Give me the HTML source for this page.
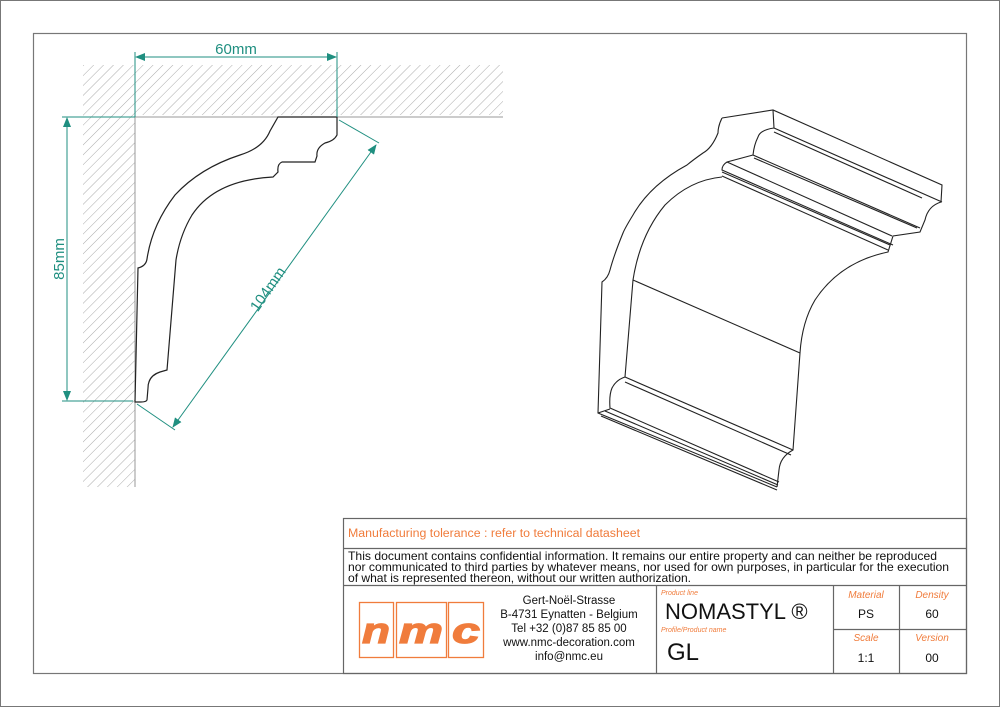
<!DOCTYPE html>
<html><head><meta charset="utf-8"><style>
html,body{margin:0;padding:0;background:#fff}
svg{display:block}
text{font-family:"Liberation Sans",sans-serif}
</style></head><body>
<svg width="1000" height="707" viewBox="0 0 1000 707" xmlns="http://www.w3.org/2000/svg">
<defs>
<pattern id="h" patternUnits="userSpaceOnUse" width="7" height="7" patternTransform="rotate(45)">
<line x1="0" y1="0" x2="0" y2="7" stroke="#aaa" stroke-width="1"/>
</pattern>
<marker id="a" markerWidth="10" markerHeight="8" refX="9" refY="4" orient="auto-start-reverse" markerUnits="userSpaceOnUse">
<path d="M0,0 L10,4 L0,8 z" fill="#1f8f80"/>
</marker>
</defs>
<rect x="0.5" y="0.5" width="999" height="706" fill="none" stroke="#777" stroke-width="1"/>
<rect x="33.5" y="33.5" width="933" height="640" fill="none" stroke="#777" stroke-width="1.2"/>

<rect x="83" y="65" width="420" height="50" fill="url(#h)"/>
<rect x="83" y="115" width="52" height="372" fill="url(#h)"/>
<rect x="136" y="117" width="367" height="1" fill="#fff"/>
<line x1="135" y1="117" x2="503" y2="117" stroke="#999" stroke-width="1"/>
<line x1="135" y1="117" x2="135" y2="487" stroke="#999" stroke-width="1"/>

<path d="M278,117 L337,117 L337,135 Q334,141 325,143 Q316,148 317,156 L315,162 L282,162 Q277,164 278,172 L273,177 Q215,180 192,215 Q180,235 176,260 L167,370 L160,372 Q148,376 148,388 L147,400 Q146,402 141,402 L135,402 L138,268 Q146,266 147,259 Q152,225 175,195 Q200,168 240,155 Q263,148 270,131 Z" fill="#fff" stroke="#222" stroke-width="1.2"/>

<g stroke="#1f8f80" stroke-width="1" fill="none">
<line x1="135" y1="52" x2="135" y2="117"/>
<line x1="337" y1="52" x2="337" y2="117"/>
<line x1="136" y1="57" x2="336" y2="57" marker-end="url(#a)" marker-start="url(#a)"/>
<line x1="62" y1="117" x2="135" y2="117"/>
<line x1="62" y1="401" x2="133" y2="401"/>
<line x1="67" y1="118" x2="67" y2="400" marker-end="url(#a)" marker-start="url(#a)"/>
<line x1="339" y1="120" x2="379" y2="143"/>
<line x1="137" y1="404" x2="175" y2="430"/>
<line x1="173" y1="427" x2="376" y2="145" marker-end="url(#a)" marker-start="url(#a)"/>
</g>
<text x="236" y="54" font-size="15" fill="#1f8f80" text-anchor="middle">60mm</text>
<text transform="translate(64,259) rotate(-90)" font-size="15" fill="#1f8f80" text-anchor="middle">85mm</text>
<text transform="translate(272,292) rotate(-55)" font-size="15" fill="#1f8f80" text-anchor="middle">104mm</text>

<g fill="none" stroke="#222" stroke-width="1.1">
<path d="M722,118 L773,110 L942,185 L941,202 Q928,206 925,220 L920,232 L893,236 L888,252 Q840,262 815,300 Q802,322 800,353 L793,450 Q780,457 779,470 L777,487"/>
<path d="M722,118 Q718,126 718,133 Q712,148 703,153 Q693,160 687,165 Q650,185 633,215 Q625,228 623,233 Q614,255 610,270 Q608,278 602,282 L598,413 L777,487"/>
<path d="M773,110 L774,128 L942,202"/>
<path d="M774,128 Q760,130 758,137 Q754,145 753,155 L920,228"/>
<path d="M774,132 L922,198"/>
<path d="M754,158 L917,228"/>
<path d="M753,155 L727,162 Q722,165 722,170 L893,245"/>
<path d="M727,162 L892,236"/>
<path d="M722,172 L890,245"/>
<path d="M722,176 L888,250"/>
<path d="M722,177 Q690,180 665,205 Q640,235 633,280 L625,377"/>
<path d="M633,280 L800,353"/>
<path d="M625,377 Q616,380 612,388 Q609,395 610,408 L779,482"/>
<path d="M625,377 L793,450"/>
<path d="M625,382 L791,455"/>
<path d="M598,413 L610,409"/>
<path d="M601,416 L777,490"/>
<path d="M605,411 L778,485"/>
</g>

<g stroke="#666" stroke-width="1.2" fill="none">
<rect x="343.5" y="518.5" width="623" height="155"/>
<line x1="343" y1="548.5" x2="966" y2="548.5"/>
<line x1="343" y1="585.5" x2="966" y2="585.5"/>
<line x1="656.5" y1="585" x2="656.5" y2="673"/>
<line x1="833.5" y1="585" x2="833.5" y2="673"/>
<line x1="899.5" y1="585" x2="899.5" y2="673"/>
<line x1="833" y1="629.5" x2="966" y2="629.5"/>
</g>
<text x="348" y="537" font-size="11.5" fill="#f07c3c" textLength="292" lengthAdjust="spacingAndGlyphs">Manufacturing tolerance : refer to technical datasheet</text>
<g font-size="12" fill="#111">
<text x="348" y="560" textLength="589" lengthAdjust="spacingAndGlyphs">This document contains confidential information. It remains our entire property and can neither be reproduced</text>
<text x="348" y="571" textLength="601" lengthAdjust="spacingAndGlyphs">nor communicated to third parties by whatever means, nor used for own purposes, in particular for the execution</text>
<text x="348" y="582" textLength="343" lengthAdjust="spacingAndGlyphs">of what is represented thereon, without our written authorization.</text>
</g>

<g fill="none" stroke="#f07c3c" stroke-width="1.3">
<rect x="359.5" y="602.5" width="34" height="55"/>
<rect x="396.5" y="602.5" width="50" height="55"/>
<rect x="448.5" y="602.5" width="35" height="55"/>
</g>
<g font-size="36" font-weight="bold" font-style="italic" fill="#f07c3c" text-anchor="middle" stroke="#f07c3c" stroke-width="1.2">
<text x="376" y="643" textLength="28" lengthAdjust="spacingAndGlyphs">n</text><text x="421" y="643" textLength="44" lengthAdjust="spacingAndGlyphs">m</text><text x="466" y="643" textLength="28" lengthAdjust="spacingAndGlyphs">c</text>
</g>
<g font-size="11.5" fill="#111" text-anchor="middle">
<text x="569" y="604">Gert-Noël-Strasse</text>
<text x="569" y="618">B-4731 Eynatten - Belgium</text>
<text x="569" y="632">Tel +32 (0)87 85 85 00</text>
<text x="569" y="646">www.nmc-decoration.com</text>
<text x="569" y="660">info@nmc.eu</text>
</g>
<text x="661" y="595" font-size="7" font-style="italic" fill="#f07c3c">Product line</text>
<text x="665" y="619" font-size="22" fill="#111">NOMASTYL ®</text>
<text x="661" y="632" font-size="7" font-style="italic" fill="#f07c3c">Profile/Product name</text>
<text x="667" y="660" font-size="24" fill="#111">GL</text>
<g font-size="10" font-style="italic" fill="#f07c3c" text-anchor="middle">
<text x="866" y="598">Material</text><text x="932" y="598">Density</text>
<text x="866" y="641">Scale</text><text x="932" y="641">Version</text>
</g>
<g font-size="12" fill="#111" text-anchor="middle">
<text x="866" y="618">PS</text><text x="932" y="618">60</text>
<text x="866" y="662">1:1</text><text x="932" y="662">00</text>
</g>
</svg>
</body></html>
